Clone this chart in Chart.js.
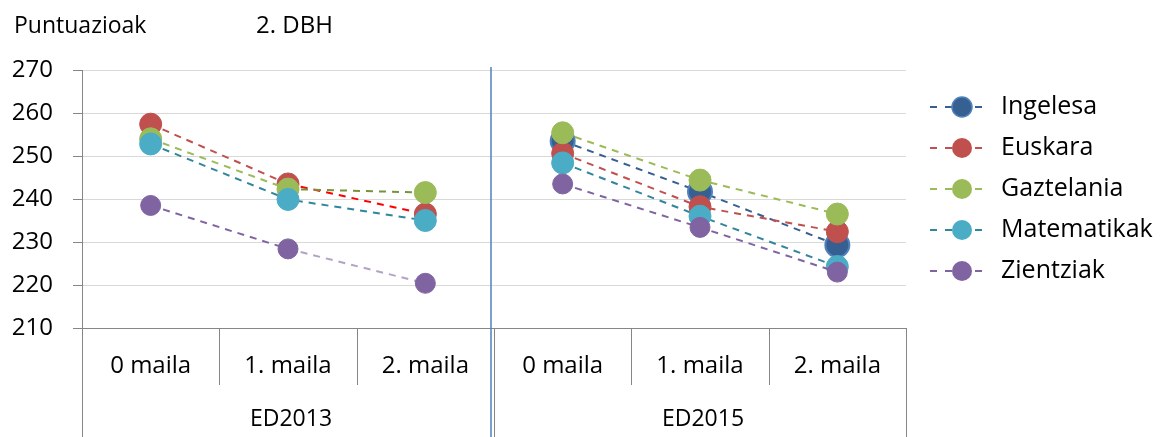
<!DOCTYPE html>
<html>
<head>
<meta charset="utf-8">
<script src="https://cdn.jsdelivr.net/npm/chart.js@4.4.1/dist/chart.umd.min.js"></script>
<style>
  html, body { margin: 0; padding: 0; background: #fff; }
  #wrap { width: 1168px; height: 437px; }
</style>
</head>
<body>
<div id="wrap"><canvas id="chart"></canvas></div>
<script>
/* eslint-disable no-magic-numbers */
var FONT = "'Open Sans', 'DejaVu Sans', sans-serif";

// categories: two survey editions, three levels each
var groups = ['ED2013', 'ED2015'];
var levels = ['0 maila', '1. maila', '2. maila', '0 maila', '1. maila', '2. maila'];
var yTicks = [210, 220, 230, 240, 250, 260, 270];

// mean scores per subject
var ingelesa = [null, null, null, 253.5, 241.7, 229.3];
var euskara = [257.4, 243.5, 236.5, 250.6, 238.2, 232.4];
var gaztelania = [254.0, 242.3, 241.5, 255.4, 244.4, 236.5];
var matematikak = [252.8, 239.9, 235.0, 248.4, 236.0, 224.3];
var zientziak = [238.5, 228.4, 220.4, 243.5, 233.4, 223.0];

// no line between the last ED2013 point and the first ED2015 point
var seg = function (color, altColor) {
    return {
        borderColor: function (ctx) {
            if (ctx.p0DataIndex === 2) return 'rgba(0,0,0,0)';
            if (ctx.p0DataIndex === 1 && altColor) return altColor;
            return color;
        }
    };
};

var makeSet = function (label, data, fill, line, radius, border, altLine) {
    return {
        label: label,
        data: data,
        borderColor: line,
        borderWidth: 2,
        borderDash: [7, 6],
        backgroundColor: fill,
        pointBackgroundColor: fill,
        pointBorderColor: border || fill,
        pointBorderWidth: border ? 2 : 1,
        pointRadius: radius,
        pointHoverRadius: radius,
        spanGaps: false,
        segment: seg(line, altLine)
    };
};

var datasets = [
    makeSet('Ingelesa', ingelesa, '#376092', '#376092', 12, '#4F81BD'),
    makeSet('Euskara', euskara, '#C0504D', '#C0504D', 11, null, '#FF0000'),
    makeSet('Gaztelania', gaztelania, '#9BBB59', '#9BBB59', 11, null, '#77933C'),
    makeSet('Matematikak', matematikak, '#4BACC6', '#31859C', 11),
    makeSet('Zientziak', zientziak, '#8064A2', '#8064A2', 10, null, '#B3A2C7')
];
// later series sit on top, as in the original
datasets.forEach(function (ds, i) { ds.order = datasets.length - i; });

var decor = {
    id: 'decor',
    afterDraw: function (chart) {
        var c = chart.ctx;
        var x = chart.scales.x;
        var area = chart.chartArea;
        var H = chart.height;
        c.save();

        // titles
        c.fillStyle = '#000';
        c.textBaseline = 'middle';
        c.textAlign = 'left';
        c.font = '23px ' + FONT;
        c.fillText('Puntuazioak', 14, 26);
        c.font = '24px ' + FONT;
        c.fillText('2. DBH', 256, 26);

        // left axis continues through the label rows
        c.strokeStyle = '#868686';
        c.lineWidth = 1;
        c.beginPath();
        c.moveTo(area.left + 0.5, area.bottom);
        c.lineTo(area.left + 0.5, H);
        c.stroke();

        // level separators and labels
        var step = x.getPixelForValue(1) - x.getPixelForValue(0);
        c.font = '24px ' + FONT;
        c.textAlign = 'center';
        for (var i = 0; i < levels.length; i++) {
            var cx = x.getPixelForValue(i);
            c.fillText(levels[i], cx, 366);
            var edge = Math.round(cx + step / 2) + 0.5;
            var full = (i % 3 === 2);
            c.beginPath();
            c.moveTo(edge, area.bottom);
            c.lineTo(edge, full ? H : 385);
            c.stroke();
        }

        // group labels
        c.font = '23px ' + FONT;
        for (var g = 0; g < groups.length; g++) {
            var gx = (x.getPixelForValue(g * 3) + x.getPixelForValue(g * 3 + 2)) / 2;
            c.fillText(groups[g], gx + 3, 419);
        }

        // blue divider between editions
        var mid = (x.getPixelForValue(2) + x.getPixelForValue(3)) / 2;
        c.strokeStyle = '#4F81BD';
        c.lineWidth = 1.5;
        c.beginPath();
        c.moveTo(Math.round(mid) - 3, area.top - 3);
        c.lineTo(Math.round(mid) - 3, H);
        c.stroke();

        // legend
        c.textAlign = 'left';
        c.font = '25px ' + FONT;
        chart.data.datasets.forEach(function (ds, k) {
            var ly = 107 + k * 41;
            c.strokeStyle = ds.borderColor;
            c.lineWidth = 2;
            c.setLineDash([7, 8]);
            c.beginPath();
            c.moveTo(930, ly);
            c.lineTo(990, ly);
            c.stroke();
            c.setLineDash([]);
            c.fillStyle = ds.pointBackgroundColor;
            c.beginPath();
            c.arc(962, ly, 10, 0, Math.PI * 2);
            c.fill();
            if (ds.pointBorderWidth > 1) {
                c.strokeStyle = ds.pointBorderColor;
                c.lineWidth = 1.5;
                c.stroke();
            }
            c.fillStyle = '#000';
            c.fillText(ds.label, 1001, ly);
        });
        c.restore();
    }
};

var chart = new Chart(document.getElementById('chart'), {
    type: 'line',
    data: { labels: levels, datasets: datasets },
    options: {
        responsive: true,
        maintainAspectRatio: false,
        animation: false,
        layout: { padding: { top: 70, right: 262, bottom: 109, left: 0 } },
        plugins: {
            legend: { display: false },
            tooltip: { enabled: false }
        },
        scales: {
            x: {
                offset: true,
                ticks: { display: false },
                grid: { display: false },
                border: { display: true, color: '#868686', width: 1 },
                afterFit: function (s) { s.height = 0; }
            },
            y: {
                min: 210,
                max: 270,
                afterFit: function (s) { s.width = 82; },
                afterBuildTicks: function (s) {
                    s.ticks = yTicks.map(function (v) { return { value: v }; });
                },
                ticks: {
                    padding: 20,
                    color: '#000',
                    font: { family: FONT, size: 24 }
                },
                grid: { color: '#D9D9D9', tickColor: '#868686', tickLength: 9, lineWidth: 1 },
                border: { display: true, color: '#868686', width: 1 }
            }
        }
    },
    plugins: [decor]
});
</script>
</body>
</html>
